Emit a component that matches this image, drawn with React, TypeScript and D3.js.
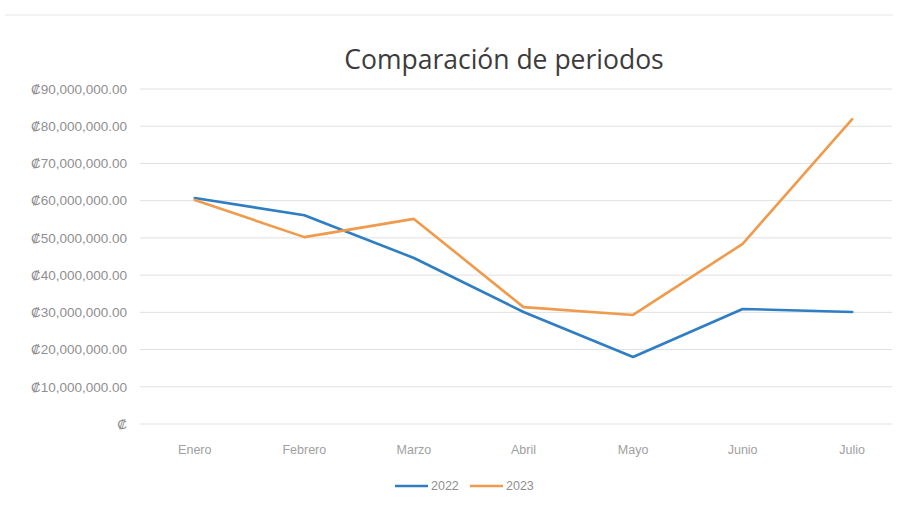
import React from 'react'
import * as d3 from 'd3'

const months = ['Enero', 'Febrero', 'Marzo', 'Abril', 'Mayo', 'Junio', 'Julio']
const values2022 = [60.7, 56.1, 44.6, 30.1, 18.0, 30.9, 30.1].map((v) => v * 1e6)
const values2023 = [60.2, 50.2, 55.1, 31.4, 29.3, 48.4, 81.9].map((v) => v * 1e6)
const yTicks = [0, 10, 20, 30, 40, 50, 60, 70, 80, 90].map((v) => v * 1e6)

const series = [
  { name: '2022', values: values2022, color: '#2f7dc2' },
  { name: '2023', values: values2023, color: '#f09a4c' },
]

const W = 898
const H = 507

const fmt = (v: number) => (v === 0 ? '₡' : '₡' + d3.format(',.2f')(v))

export default function App() {
  const x = d3.scaleBand().domain(months).range([140, 907])
  const y = d3.scaleLinear().domain([0, 90e6]).range([424, 89])
  const cx = (m: string) => (x(m) ?? 0) + x.bandwidth() / 2

  const line = d3
    .line<number>()
    .x((_, i) => cx(months[i]))
    .y((d) => y(d))

  const font = "'Liberation Sans Narrow', 'Liberation Sans', sans-serif"

  return (
    <svg
      width={W}
      height={H}
      style={{ position: 'absolute', left: 0, top: 0, background: '#fff' }}
    >
      <rect x={0} y={0} width={W} height={H} fill="#fff" />
      <line x1={5} x2={893} y1={15} y2={15} stroke="#e6e6e6" />
      <text
        x={504}
        y={69}
        textAnchor="middle"
        fontFamily="'Open Sans', sans-serif"
        fontSize={26.5}
        fill="#3c3c3c"
      >
        Comparación de periodos
      </text>

      {yTicks.map((t) => (
        <g key={t}>
          <line x1={140} x2={892} y1={y(t)} y2={y(t)} stroke="#e0e0e0" strokeWidth={1} />
          <text
            x={127}
            y={y(t)}
            dy="0.35em"
            textAnchor="end"
            fontFamily={font}
            fontSize={13.5}
            fill="#8f8f8f"
          >
            {fmt(t)}
          </text>
        </g>
      ))}

      {months.map((m) => (
        <text
          key={m}
          x={cx(m)}
          y={454}
          textAnchor="middle"
          fontFamily={font}
          fontSize={12.5}
          fill="#a0a0a0"
        >
          {m}
        </text>
      ))}

      {series.map((s) => (
        <path
          key={s.name}
          d={line(s.values) ?? ''}
          fill="none"
          stroke={s.color}
          strokeWidth={2.6}
          strokeLinejoin="round"
          strokeLinecap="round"
        />
      ))}

      {series.map((s, i) => (
        <g key={s.name} transform={`translate(${395 + i * 75},486)`}>
          <line x1={0} x2={33} y1={0} y2={0} stroke={s.color} strokeWidth={2.6} />
          <text x={36} y={0} dy="0.35em" fontFamily={font} fontSize={12.5} fill="#8f8f8f">
            {s.name}
          </text>
        </g>
      ))}
    </svg>
  )
}
